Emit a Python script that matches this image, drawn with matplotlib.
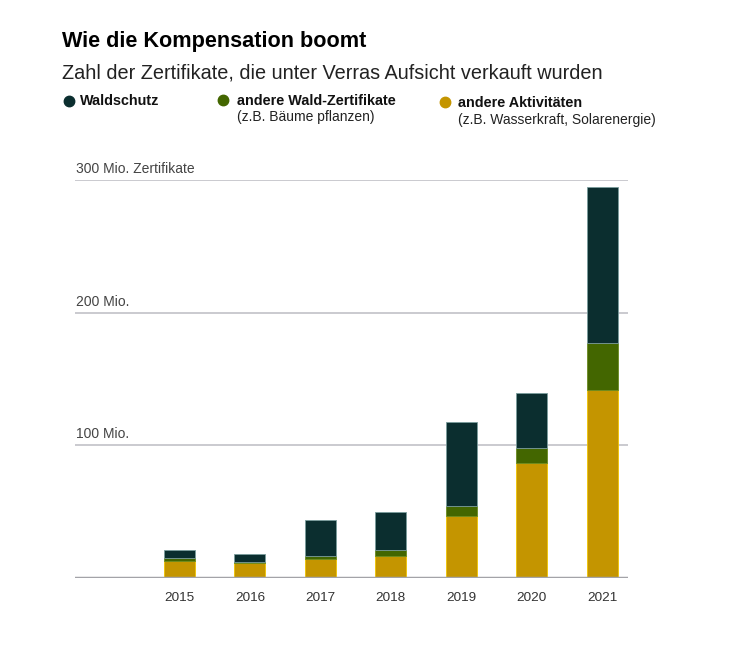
import matplotlib
matplotlib.use("Agg")
import matplotlib.pyplot as plt
from matplotlib.lines import Line2D
import numpy as np

plt.rcParams['font.family'] = ['Liberation Sans', 'DejaVu Sans']

years = ["2015", "2016", "2017", "2018", "2019", "2020", "2021"]
andere_aktivitaeten = [13.0, 11.0, 14.6, 16.8, 46.7, 86.4, 141.7]
andere_wald = [2.3, 1.3, 2.3, 4.3, 7.5, 11.5, 35.6]
waldschutz = [6.0, 5.8, 26.9, 28.4, 63.5, 41.7, 117.1]
ytick_values = [100, 200, 300]
ytick_labels = ["100 Mio.", "200 Mio.", "300 Mio. Zertifikate"]

c_wald = "#0b2e2f"
c_green = "#436600"
c_yellow = "#c49500"

W, H = 750, 665
fig = plt.figure(figsize=(W / 100, H / 100), dpi=100)

def fx(px):
    return px / W

def fy(py):
    return 1 - py / H

ax = fig.add_axes([fx(75), fy(578), (628 - 75) / W, (578 - 180) / H])

x = np.arange(len(years))
bw = 0.44
ax.bar(x, andere_aktivitaeten, bw, color=c_yellow, edgecolor="#f0c400", linewidth=0.6, zorder=3)
b1 = np.array(andere_aktivitaeten)
ax.bar(x, andere_wald, bw, bottom=b1, color=c_green, edgecolor="#6a8a20", linewidth=0.6, zorder=3)
b2 = b1 + np.array(andere_wald)
ax.bar(x, waldschutz, bw, bottom=b2, color=c_wald, edgecolor="#7a9c9c", linewidth=0.6, zorder=3)

ax.set_xlim(-1.484, 6.369)
ax.set_ylim(0, 300)
for s in ax.spines.values():
    s.set_visible(False)
ax.set_yticks([])
ax.set_xticks(x)
ax.set_xticklabels(years, fontsize=9.7, color="#333333")
ax.tick_params(axis="x", length=0, pad=10)

for v, lab in zip(ytick_values, ytick_labels):
    ax.axhline(v, color="#c6c6cc", lw=1.3, zorder=1)
    ax.annotate(lab, xy=(0, v), xycoords=("axes fraction", "data"),
                xytext=(1, 5), textcoords="offset points",
                fontsize=10, color="#444444", va="baseline", ha="left")
ax.axhline(0, color="#a3a3a8", lw=2.5, zorder=4)

# Title and subtitle
fig.text(fx(62), fy(47), "Wie die Kompensation boomt", fontsize=15.6,
         fontweight="bold", color="#000000", va="baseline")
fig.text(fx(62), fy(78.3), "Zahl der Zertifikate, die unter Verras Aufsicht verkauft wurden",
         fontsize=14.3, color="#222222", va="baseline")

# Legend
legend_items = [
    (69, 100.7, c_wald, 80, 104.7, "Waldschutz", None),
    (223, 99.5, c_green, 236.5, 104.7, "andere Wald-Zertifikate", "(z.B. Bäume pflanzen)"),
    (445, 101.5, c_yellow, 458, 107.3, "andere Aktivitäten", "(z.B. Wasserkraft, Solarenergie)"),
]
for cx, cy, col, tx, ty, lab, sub in legend_items:
    fig.add_artist(Line2D([fx(cx)], [fy(cy)], marker="o", markersize=7.5,
                          color=col, linestyle="none", transform=fig.transFigure))
    fig.text(fx(tx), fy(ty), lab, fontsize=10.4, fontweight="bold", color="#111111", va="baseline")
    if sub:
        fig.text(fx(tx), fy(ty + 16.7), sub, fontsize=10, color="#222222", va="baseline")

fig.savefig("out.png", dpi=100, facecolor="white")
